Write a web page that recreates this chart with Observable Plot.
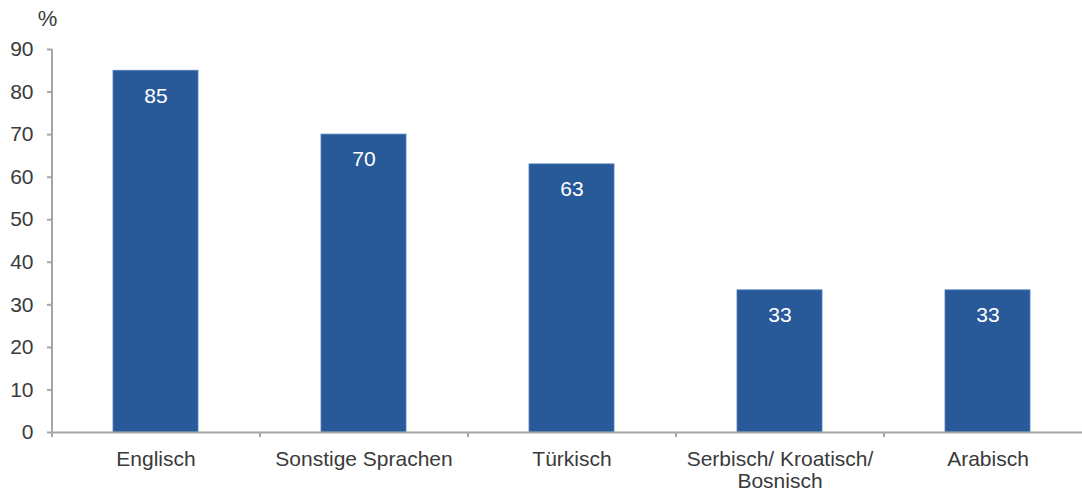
<!DOCTYPE html>
<html><head><meta charset="utf-8">
<script src="https://cdn.jsdelivr.net/npm/d3@7"></script>
<script src="https://cdn.jsdelivr.net/npm/@observablehq/plot@0.6"></script>
<style>
html,body{margin:0;padding:0;background:#fff;overflow:hidden;}
</style>
</head><body>
<div id="chart"></div>
<script>
const categories = ["Englisch", "Sonstige Sprachen", "Türkisch", "Serbisch/ Kroatisch/\nBosnisch", "Arabisch"];
const values = [85, 70, 63, 33.4, 33.4];
const valueLabels = ["85", "70", "63", "33", "33"];
const yTicks = [0, 10, 20, 30, 40, 50, 60, 70, 80, 90];
const unitLabel = "%";

const data = categories.map((c, i) => ({cat: c, v: values[i], lab: valueLabels[i]}));
const axisColor = "#a6a6a6";
const textColor = "#3a3a3a";
const barColor = "#285a99";

const chart = Plot.plot({
  width: 1082,
  height: 493,
  marginTop: 49,
  marginBottom: 61,
  marginLeft: 52,
  marginRight: -10,
  style: {fontFamily: "'Liberation Sans', Arial, sans-serif", fontSize: "21px", color: textColor, background: "#fff"},
  x: {domain: categories, paddingInner: 0.59, paddingOuter: 0.295, axis: null},
  y: {domain: [0, 90], axis: null},
  marks: [
    Plot.barY(data, {x: "cat", y: "v", fill: barColor, stroke: "#4f7cb8", strokeWidth: 0.8}),
    Plot.text(data, {x: "cat", y: "v", text: "lab", dy: 25, fill: "white", fontSize: 21}),
    Plot.ruleY([0], {stroke: axisColor, strokeWidth: 2}),
    Plot.ruleX(categories.slice(0, 1), {x: d => d, dx: -104, y1: -1.2, y2: 90, stroke: axisColor, strokeWidth: 2}),
    Plot.ruleX(categories.slice(1), {x: d => d, dx: -104, y1: -1.2, y2: 0, stroke: axisColor, strokeWidth: 2}),
    Plot.axisY({ticks: yTicks, tickSize: 5, tickPadding: 14, stroke: axisColor, strokeWidth: 2, fill: textColor, fontSize: 21, label: null}),
    Plot.axisX({tickSize: 0, tickPadding: 17, fill: textColor, fontSize: 21, lineHeight: 1.08, label: null}),
    Plot.text([unitLabel], {frameAnchor: "top-left", textAnchor: "middle", lineAnchor: "middle", dx: -5, dy: -31, fill: textColor, fontSize: 22})
  ]
});
document.getElementById("chart").appendChild(chart);
</script>
</body></html>
